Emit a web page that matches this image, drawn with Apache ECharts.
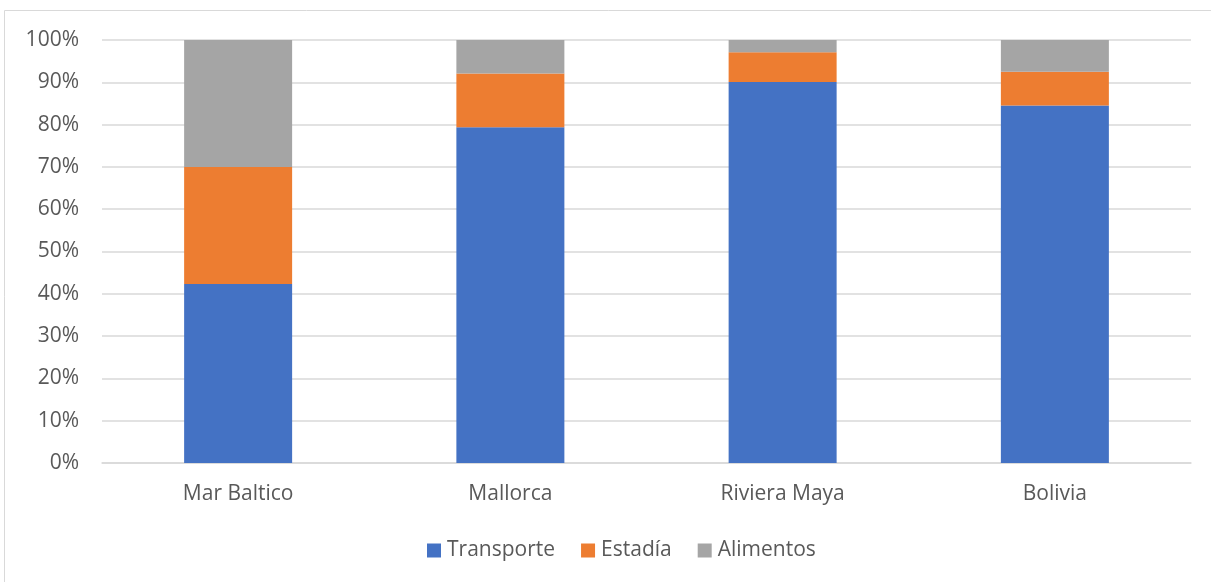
<!DOCTYPE html>
<html>
<head>
<meta charset="utf-8">
<script src="https://cdn.jsdelivr.net/npm/echarts@6/dist/echarts.min.js"></script>
<style>
  html, body { margin: 0; padding: 0; background: #fff; }
  #chart { width: 1211px; height: 582px; }
</style>
</head>
<body>
<div id="chart"></div>
<script>
// Share of trip cost by destination (percent of total)
const categories = ['Mar Baltico', 'Mallorca', 'Riviera Maya', 'Bolivia'];
const transporte = [42.3, 79.4, 90.1, 84.5];
const estadia = [27.7, 12.7, 7.0, 8.0];
const alimentos = [30.0, 7.9, 2.9, 7.5];
const seriesNames = ['Transporte', 'Estadía', 'Alimentos'];
const colors = ['#4472C4', '#ED7D31', '#A5A5A5'];

const font = 'Open Sans, Liberation Sans, sans-serif';
const textColor = '#595959';
const fontSize = 21;

const chart = echarts.init(document.getElementById('chart'), null, { renderer: 'canvas' });

const makeSeries = (name, data, color) => ({
  name: name,
  type: 'bar',
  stack: 'total',
  data: data,
  barWidth: 108,
  itemStyle: { color: color },
  emphasis: { disabled: true }
});

chart.setOption({
  animation: false,
  graphic: [{
    type: 'rect',
    shape: { x: 4.5, y: 10.5, width: 1220, height: 600 },
    style: { fill: 'none', stroke: '#d9d9d9', lineWidth: 1 },
    silent: true
  }],
  grid: { left: 102, right: 20, top: 40, bottom: 119 },
  legend: {
    data: seriesNames,
    top: 535,
    left: 422,
    itemWidth: 14,
    itemHeight: 14,
    itemGap: 26,
    icon: 'rect',
    textStyle: { fontFamily: font, fontSize: fontSize, color: textColor, padding: [0, 0, 0, 1] }
  },
  xAxis: {
    type: 'category',
    data: categories,
    axisLine: { lineStyle: { color: '#d9d9d9', width: 1.5 } },
    axisTick: { show: false },
    axisLabel: { fontFamily: font, fontSize: fontSize, color: textColor, margin: 21 }
  },
  yAxis: {
    type: 'value',
    min: 0,
    max: 100,
    interval: 10,
    axisLine: { show: false },
    axisTick: { show: false },
    splitLine: { lineStyle: { color: '#d9d9d9', width: 1.5 } },
    axisLabel: { fontFamily: font, fontSize: fontSize, color: textColor, margin: 23, formatter: '{value}%' }
  },
  series: [
    makeSeries(seriesNames[0], transporte, colors[0]),
    makeSeries(seriesNames[1], estadia, colors[1]),
    makeSeries(seriesNames[2], alimentos, colors[2])
  ]
});
</script>
</body>
</html>
